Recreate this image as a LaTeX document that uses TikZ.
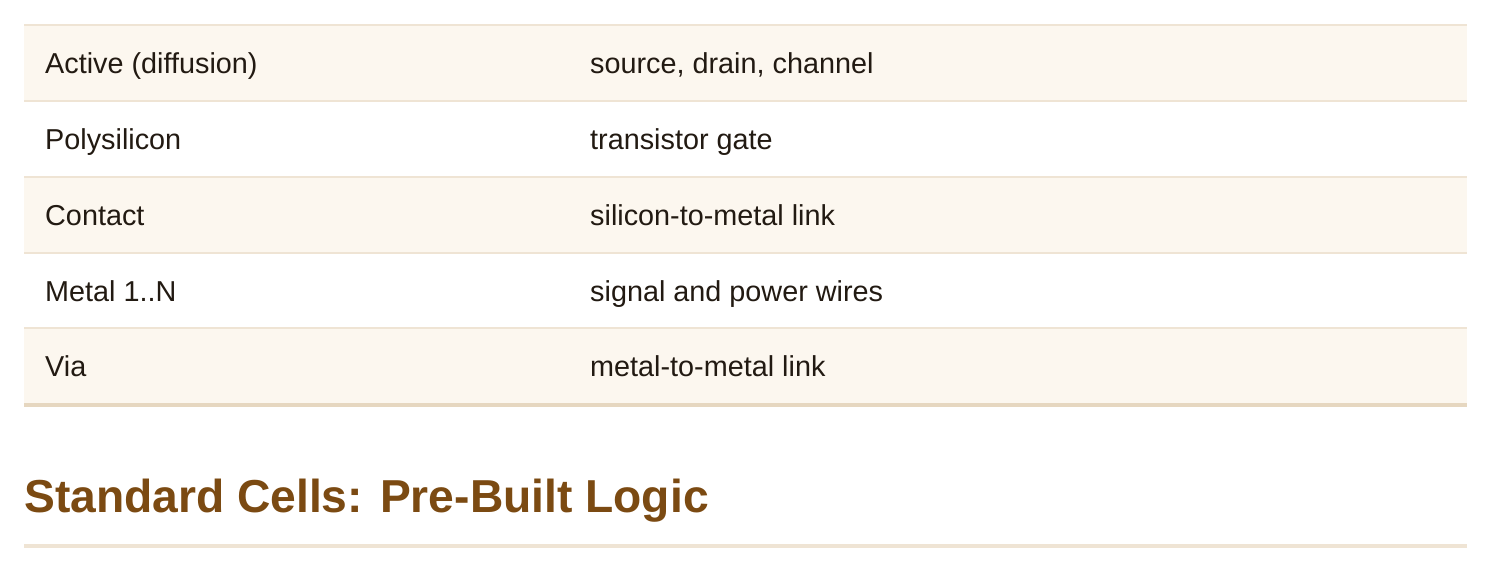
\documentclass[tikz,border=0pt]{standalone}
\usepackage{fontspec}
\setmainfont{Liberation Sans}
\definecolor{rowbg}{HTML}{FCF7EF}
\definecolor{sep}{HTML}{EFE4D4}
\definecolor{bot}{HTML}{E6D7C0}
\definecolor{head}{HTML}{7B4A12}
\definecolor{txt}{HTML}{221A12}
\begin{document}
\begin{tikzpicture}[x=1pt,y=-1pt,
  cell/.style={anchor=base west,inner sep=0pt,text=txt,font=\fontsize{28.8}{34}\selectfont}]
\useasboundingbox (0,0) rectangle (1494,573);
\fill[white] (0,0) rectangle (1494,573);
\foreach \t in {25,177,328} \fill[rowbg] (24,\t) rectangle (1467,\t+76);
\foreach \t in {25,101,177,253,328} \draw[sep,line width=2.5] (24,\t) -- (1467,\t);
\draw[bot,line width=4] (24,405) -- (1467,405);
\node[cell] (a1) at (45,73) {Active (diffusion)};
\node[cell] (b1) at (590,73) {source, drain, channel};
\node[cell] (a2) at (45,149) {Polysilicon};
\node[cell] (b2) at (590,149) {transistor gate};
\node[cell] (a3) at (45,225) {Contact};
\node[cell] (b3) at (590,225) {silicon-to-metal link};
\node[cell] (a4) at (45,301) {Metal 1..N};
\node[cell] (b4) at (590,301) {signal and power wires};
\node[cell] (a5) at (45,376) {Via};
\node[cell] (b5) at (590,376) {metal-to-metal link};
\node[anchor=base west,inner sep=0pt,text=head,font=\fontsize{46.2}{54}\selectfont\bfseries] (h) at (24,512) {Standard Cells: Pre-Built Logic};
\draw[sep,line width=4] (24,546) -- (1467,546);
\end{tikzpicture}
\end{document}
